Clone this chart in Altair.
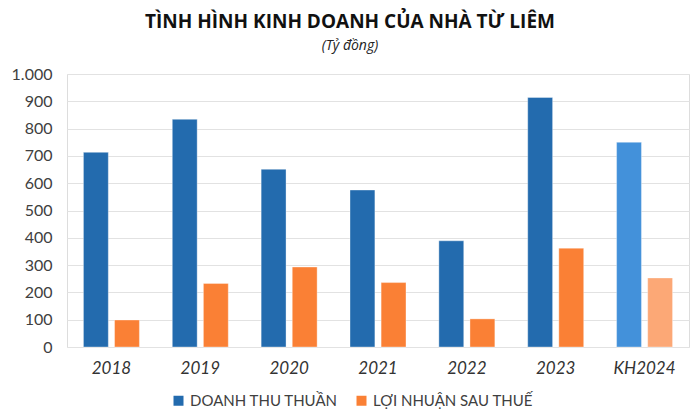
import altair as alt
import pandas as pd

years = ["2018", "2019", "2020", "2021", "2022", "2023", "KH2024"]
doanh_thu = [713, 834, 651, 575, 389, 914, 750]
loi_nhuan = [99, 233, 293, 236, 103, 362, 253]
series_names = ["DOANH THU THUẦN", "LỢI NHUẬN SAU THUẾ"]
plan_label = "KH2024"
y_ticks = [0, 100, 200, 300, 400, 500, 600, 700, 800, 900, 1000]

rows = []
for yr, d, l in zip(years, doanh_thu, loi_nhuan):
    for s, v in zip(series_names, [d, l]):
        grp = s + (" (KH)" if yr == plan_label else "")
        rows.append({"year": yr, "series": s, "grp": grp, "value": v})
df = pd.DataFrame(rows)

color_domain = [series_names[0], series_names[1],
                series_names[0] + " (KH)", series_names[1] + " (KH)"]
color_range = ["#236BAE", "#FA8035", "#4391DA", "#FCA876"]

chart = alt.Chart(df).mark_bar(stroke="white", strokeWidth=0.6, strokeOpacity=0.6).encode(
    x=alt.X("year:N", sort=years, title=None,
            scale=alt.Scale(paddingInner=0.37, paddingOuter=0.185),
            axis=alt.Axis(labelAngle=0, labelFont="Lato", labelFontSize=17,
                          labelFontStyle="italic", labelColor="#333333",
                          domain=False, ticks=False, labelPadding=13, grid=False)),
    xOffset=alt.XOffset("series:N", sort=series_names,
                        scale=alt.Scale(paddingInner=0.2, paddingOuter=0)),
    y=alt.Y("value:Q", title=None, scale=alt.Scale(domain=[0, 1000], nice=False),
            axis=alt.Axis(values=y_ticks,
                          labelExpr="replace(format(datum.value, ','), ',', '.')",
                          labelFont="Lato", labelFontSize=16, labelColor="#404040",
                          domain=False, ticks=False, labelPadding=15,
                          grid=True, gridColor="#e2e2e2", gridWidth=1)),
    color=alt.Color("grp:N", scale=alt.Scale(domain=color_domain, range=color_range),
                    legend=alt.Legend(values=series_names, title=None, orient="none",
                                      direction="horizontal", legendX=104, legendY=319,
                                      symbolType="square", symbolSize=100,
                                      symbolStrokeWidth=0, labelFont="Lato",
                                      labelFontSize=15, labelColor="#404040",
                                      labelOffset=4, columnPadding=16)),
).properties(
    width=622, height=273,
    padding={"left": 59, "top": 66, "right": 3, "bottom": 65},
    autosize=alt.AutoSizeParams(type="none"),
    title=alt.TitleParams(
        text="TÌNH HÌNH KINH DOANH CỦA NHÀ TỪ LIÊM",
        subtitle="(Tỷ đồng)",
        font="Open Sans", fontSize=19, fontWeight="bold", color="#111111",
        subtitleFont="Open Sans", subtitleFontSize=14, subtitleFontStyle="italic",
        subtitleColor="#222222", subtitlePadding=7,
        anchor="middle", dx=-28, offset=13,
    ),
).configure_view(stroke=None).configure(background="white")

chart.save("out.html", embed_options={"renderer": "svg", "actions": False})
